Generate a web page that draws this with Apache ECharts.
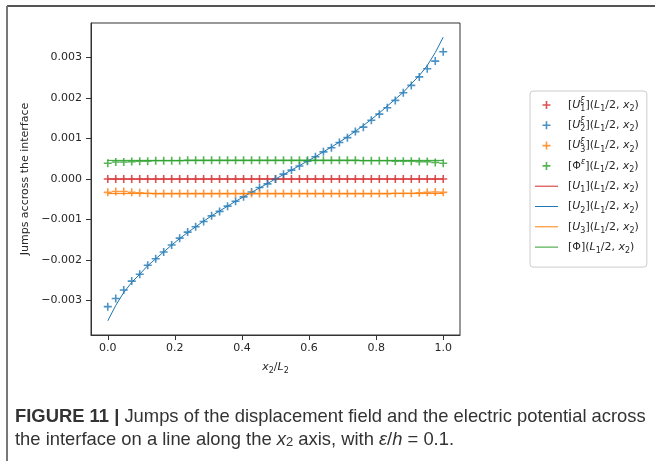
<!DOCTYPE html>
<html>
<head>
<meta charset="utf-8">
<script src="https://cdn.jsdelivr.net/npm/echarts@6/dist/echarts.min.js"></script>
<style>html,body{margin:0;padding:0;background:#fff;}#c{width:655px;height:461px;}</style>
</head>
<body>
<div id="c"></div>
<script>
// x2/L2 positions (43 sample points)
const xVals = [0, 0.0238, 0.0476, 0.0714, 0.0952, 0.1190, 0.1429, 0.1667, 0.1905, 0.2143, 0.2381, 0.2619, 0.2857, 0.3095, 0.3333, 0.3571, 0.3810, 0.4048, 0.4286, 0.4524, 0.4762, 0.5, 0.5238, 0.5476, 0.5714, 0.5952, 0.6190, 0.6429, 0.6667, 0.6905, 0.7143, 0.7381, 0.7619, 0.7857, 0.8095, 0.8333, 0.8571, 0.8810, 0.9048, 0.9286, 0.9524, 0.9762, 1.0];

// markers (epsilon solution)
const u1e = [0,0,0,0,0,0,0,0,0,0,0,0,0,0,0,0,0,0,0,0,0,0,0,0,0,0,0,0,0,0,0,0,0,0,0,0,0,0,0,0,0,0,0];
const u2e = [-0.00315, -0.00295, -0.00274, -0.00252, -0.00235, -0.00213, -0.00197, -0.00180, -0.00163, -0.00146, -0.00131, -0.00118, -0.00105, -0.00091, -0.00080, -0.00067, -0.00055, -0.00044, -0.00032, -0.00021, -0.00012, 0.0, 0.00012, 0.00022, 0.00032, 0.00044, 0.00055, 0.00067, 0.00077, 0.00090, 0.00102, 0.00117, 0.00128, 0.00145, 0.00160, 0.00176, 0.00194, 0.00213, 0.00231, 0.00252, 0.00272, 0.00291, 0.00314];
const u3e = [-0.00033, -0.00031, -0.00031, -0.00033, -0.00034, -0.00035, -0.00036, -0.00036, -0.00036, -0.00036, -0.00036, -0.00036, -0.00036, -0.00036, -0.00036, -0.00036, -0.00036, -0.00036, -0.00036, -0.00036, -0.00036, -0.00036, -0.00036, -0.00036, -0.00036, -0.00036, -0.00036, -0.00036, -0.00036, -0.00036, -0.00036, -0.00036, -0.00036, -0.00036, -0.00036, -0.00036, -0.00035, -0.00035, -0.00035, -0.00034, -0.00033, -0.00032, -0.00033];
const phie = [0.00039, 0.00042, 0.00042, 0.00043, 0.00044, 0.00044, 0.00045, 0.00045, 0.00045, 0.00045, 0.00046, 0.00046, 0.00046, 0.00046, 0.00046, 0.00046, 0.00046, 0.00046, 0.00046, 0.00046, 0.00046, 0.00046, 0.00046, 0.00046, 0.00046, 0.00046, 0.00046, 0.00046, 0.00046, 0.00046, 0.00046, 0.00046, 0.00045, 0.00045, 0.00045, 0.00045, 0.00044, 0.00044, 0.00044, 0.00043, 0.00043, 0.00041, 0.00039];

// lines (limit solution)
const u1 = [0,0,0,0,0,0,0,0,0,0,0,0,0,0,0,0,0,0,0,0,0,0,0,0,0,0,0,0,0,0,0,0,0,0,0,0,0,0,0,0,0,0,0];
const u2 = [-0.0035, -0.00312, -0.0028, -0.00255, -0.00235, -0.00214, -0.00197, -0.0018, -0.00163, -0.00147, -0.00132, -0.00118, -0.00104, -0.00091, -0.00079, -0.00067, -0.00055, -0.00044, -0.00033, -0.00022, -0.00011, 0, 0.00011, 0.00022, 0.00033, 0.00044, 0.00055, 0.00067, 0.00079, 0.00091, 0.00104, 0.00118, 0.00132, 0.00147, 0.00163, 0.0018, 0.00197, 0.00214, 0.00235, 0.00255, 0.0028, 0.00312, 0.0035];
const u3 = [-0.00036, -0.00036, -0.00036, -0.00036, -0.00036, -0.00036, -0.00036, -0.00036, -0.00036, -0.00036, -0.00036, -0.00036, -0.00036, -0.00036, -0.00036, -0.00036, -0.00036, -0.00036, -0.00036, -0.00036, -0.00036, -0.00036, -0.00036, -0.00036, -0.00036, -0.00036, -0.00036, -0.00036, -0.00036, -0.00036, -0.00036, -0.00036, -0.00036, -0.00036, -0.00036, -0.00036, -0.00036, -0.00036, -0.00036, -0.00036, -0.00036, -0.00036, -0.00036];
const phi = [0.00046, 0.00046, 0.00046, 0.00046, 0.00046, 0.00046, 0.00046, 0.00046, 0.00046, 0.00046, 0.00046, 0.00046, 0.00046, 0.00046, 0.00046, 0.00046, 0.00046, 0.00046, 0.00046, 0.00046, 0.00046, 0.00046, 0.00046, 0.00046, 0.00046, 0.00046, 0.00046, 0.00046, 0.00046, 0.00046, 0.00046, 0.00046, 0.00046, 0.00046, 0.00046, 0.00046, 0.00046, 0.00046, 0.00046, 0.00046, 0.00046, 0.00046, 0.00046];

const xTicks = [0, 0.2, 0.4, 0.6, 0.8, 1.0];
const yTicks = [-0.003, -0.002, -0.001, 0, 0.001, 0.002, 0.003];

const C = {red: '#d62728', blue: '#1f77b4', orange: '#ff7f0e', green: '#2ca02c'};
const PLUS = 'path://M-0.8,-4h1.6v3.2h3.2v1.6h-3.2v3.2h-1.6v-3.2h-3.2v-1.6h3.2z';
const BAR = 'path://M0,0h23v1h-23z';

const legendText = {
  u1e: '[{i|U}{sp|ξ}{sb|1}]({i|L}{sb|1}/2, {i|x}{sb|2})',
  u2e: '[{i|U}{sp|ξ}{sb|2}]({i|L}{sb|1}/2, {i|x}{sb|2})',
  u3e: '[{i|U}{sp|ξ}{sb|3}]({i|L}{sb|1}/2, {i|x}{sb|2})',
  phie: '[Φ{sp2|ε}]({i|L}{sb|1}/2, {i|x}{sb|2})',
  u1: '[{i|U}{sb|1}]({i|L}{sb|1}/2, {i|x}{sb|2})',
  u2: '[{i|U}{sb|2}]({i|L}{sb|1}/2, {i|x}{sb|2})',
  u3: '[{i|U}{sb|3}]({i|L}{sb|1}/2, {i|x}{sb|2})',
  phi: '[Φ]({i|L}{sb|1}/2, {i|x}{sb|2})'
};

function pts(ys) { return xVals.map((x, i) => [x, ys[i]]); }
function scat(name, ys, color) {
  return {name, type: 'scatter', data: pts(ys), symbol: PLUS, symbolSize: 8,
    itemStyle: {color}, emphasis: {disabled: true}, z: 2};
}
function line(name, ys, color) {
  return {name, type: 'line', data: pts(ys), showSymbol: false, symbol: 'none',
    lineStyle: {color, width: 1}, itemStyle: {color}, emphasis: {disabled: true}, z: 3};
}
const minus = v => (v < 0 ? '\u2212' : '') + Math.abs(v).toFixed(3);

const chart = echarts.init(document.getElementById('c'), null, {renderer: 'canvas'});
chart.setOption({
  animation: false,
  backgroundColor: '#fff',
  textStyle: {fontFamily: 'DejaVu Sans'},
  grid: {left: 91, top: 23, width: 369, height: 312, containLabel: false, outerBoundsMode: 'none',
    show: true, borderColor: '#333', borderWidth: 1, backgroundColor: 'transparent'},
  xAxis: {
    type: 'value', min: -0.05, max: 1.05,
    axisLine: {show: true, onZero: false, lineStyle: {color: '#333', width: 1}},
    axisTick: {show: true, length: 5, lineStyle: {color: '#333'}, customValues: xTicks},
    axisLabel: {customValues: xTicks, formatter: v => v.toFixed(1), color: '#262626', fontSize: 11, margin: 8, fontFamily: 'DejaVu Sans'},
    splitLine: {show: false},
    name: '{i|x}{sb|2}/{i|L}{sb|2}', nameLocation: 'middle', nameGap: 17,
    nameTextStyle: {color: '#262626', fontSize: 11, fontFamily: 'DejaVu Sans', lineHeight: 16,
      rich: {i: {fontStyle: 'italic', fontSize: 11, fontFamily: 'DejaVu Sans', color: '#262626'},
             sb: {fontSize: 8, verticalAlign: 'bottom', lineHeight: 11, fontFamily: 'DejaVu Sans', color: '#262626'}}}
  },
  yAxis: {
    type: 'value', min: -0.00385, max: 0.00385,
    axisLine: {show: true, onZero: false, lineStyle: {color: '#333', width: 1}},
    axisTick: {show: true, length: 5, lineStyle: {color: '#333'}, customValues: yTicks},
    axisLabel: {customValues: yTicks, formatter: minus, color: '#262626', fontSize: 11, margin: 9, fontFamily: 'DejaVu Sans'},
    splitLine: {show: false},
    name: 'Jumps accross the interface', nameLocation: 'middle', nameGap: 52,
    nameTextStyle: {color: '#262626', fontSize: 11, fontFamily: 'DejaVu Sans'}
  },
  legend: {
    orient: 'vertical', left: 530, top: 91,
    padding: [6, 8, 12, 5], itemGap: 4.3, itemWidth: 23, itemHeight: 8,
    borderColor: '#cccccc', borderWidth: 1, borderRadius: 3, backgroundColor: '#fff',
    itemStyle: {borderWidth: 0},
    selectedMode: false,
    data: [
      {name: 'u1e', icon: PLUS}, {name: 'u2e', icon: PLUS}, {name: 'u3e', icon: PLUS}, {name: 'phie', icon: PLUS},
      {name: 'u1', icon: BAR}, {name: 'u2', icon: BAR}, {name: 'u3', icon: BAR}, {name: 'phi', icon: BAR}
    ],
    formatter: n => legendText[n],
    textStyle: {
      fontFamily: 'DejaVu Sans', fontSize: 11, color: '#262626', lineHeight: 16, padding: [0, 0, 0, 5],
      rich: {
        i: {fontStyle: 'italic', fontSize: 11, fontFamily: 'DejaVu Sans', color: '#262626'},
        sp: {fontStyle: 'italic', fontSize: 8, verticalAlign: 'top', lineHeight: 10, width: 0.01, fontFamily: 'DejaVu Sans', color: '#262626'},
        sp2: {fontStyle: 'italic', fontSize: 8, verticalAlign: 'top', lineHeight: 10, fontFamily: 'DejaVu Sans', color: '#262626'},
        sb: {fontSize: 8, verticalAlign: 'bottom', lineHeight: 11, fontFamily: 'DejaVu Sans', color: '#262626'}
      }
    }
  },
  graphic: [
    {type: 'line', shape: {x1: 7, y1: 6, x2: 655, y2: 6}, style: {stroke: '#555', lineWidth: 2}},
    {type: 'line', shape: {x1: 7, y1: 6, x2: 7, y2: 461}, style: {stroke: '#777', lineWidth: 2}},
    {type: 'text', left: 15, top: 408, style: {
      text: '{b|FIGURE 11 |} Jumps of the displacement field and the electric potential across',
      fontFamily: 'Liberation Sans', fontSize: 18.4, fill: '#333',
      rich: {b: {fontWeight: 'bold', fontFamily: 'Liberation Sans', fontSize: 18.4, fill: '#333'}}}},
    {type: 'text', left: 15, top: 431, style: {
      text: 'the interface on a line along the {it|x}{sb|2} axis, with {it|ε}/{it|h} = 0.1.',
      fontFamily: 'Liberation Sans', fontSize: 18.4, fill: '#333',
      rich: {it: {fontStyle: 'italic', fontFamily: 'Liberation Sans', fontSize: 18.4, fill: '#333'},
             sb: {fontFamily: 'Liberation Sans', fontSize: 13, fill: '#333', verticalAlign: 'bottom', lineHeight: 16}}}}
  ],
  series: [
    scat('u1e', u1e, C.red), scat('u2e', u2e, C.blue), scat('u3e', u3e, C.orange), scat('phie', phie, C.green),
    line('u1', u1, C.red), line('u2', u2, C.blue), line('u3', u3, C.orange), line('phi', phi, C.green)
  ]
});
</script>
</body>
</html>
